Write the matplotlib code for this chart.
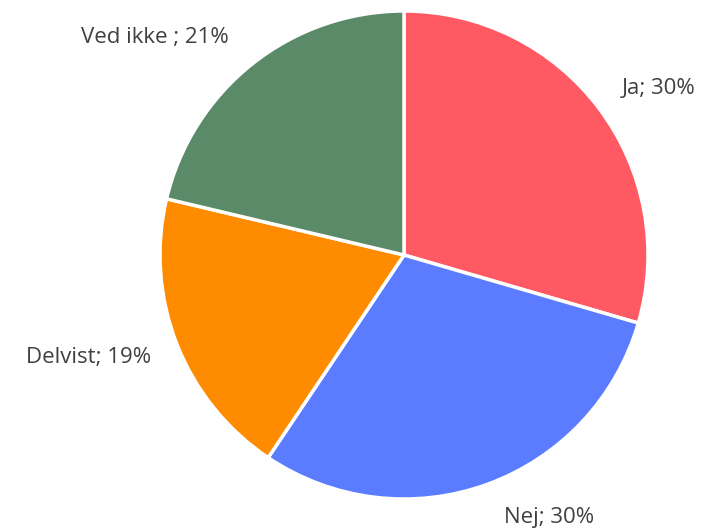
import matplotlib
matplotlib.use("Agg")
import matplotlib.pyplot as plt

labels = ["Ja", "Nej", "Delvist", "Ved ikke "]
values = [29.5, 29.9, 19.3, 21.3]
pct_text = ["30%", "30%", "19%", "21%"]
colors = ["#FF5A64", "#5B7CFF", "#FF8C00", "#5A8A68"]
label_pos = [(659, 89), (549, 517), (89, 357), (155, 37)]

W, H = 712, 529
fig = plt.figure(figsize=(W / 100, H / 100), dpi=100)
ax = fig.add_axes([0, 0, 1, 1])

cx, cy, r = 404, H - 255, 244
ax.pie(values, colors=colors, startangle=90, counterclock=False,
       center=(cx, cy), radius=r, frame=True,
       wedgeprops=dict(edgecolor="white", linewidth=2.5))
ax.set_xlim(0, W)
ax.set_ylim(0, H)
ax.set_aspect("equal")
ax.axis("off")

for lab, p, (x, y) in zip(labels, pct_text, label_pos):
    ax.text(x, H - y, f"{lab}; {p}", ha="center", va="center",
            fontsize=16, color="#404040", family="Open Sans")

fig.savefig("out.png", dpi=100)
